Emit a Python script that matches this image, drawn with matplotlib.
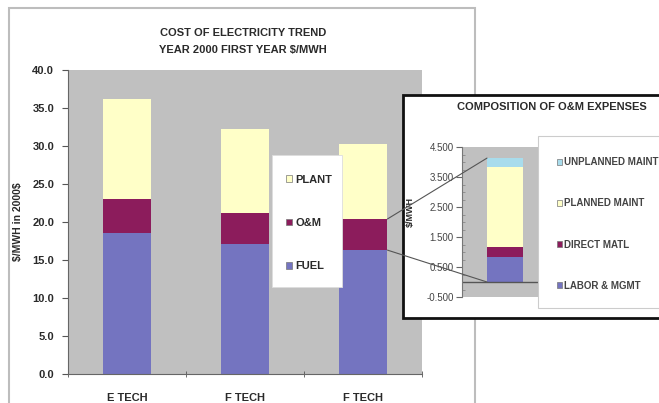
import numpy as np
import matplotlib
matplotlib.use("Agg")
import matplotlib.pyplot as plt
from matplotlib.patches import Rectangle, Patch, ConnectionPatch

plt.rcParams["font.family"] = ["Liberation Sans", "DejaVu Sans"]

# main chart data ($/MWH in 2000$)
categories = ["E TECH", "F TECH", "F TECH"]
fuel = [18.5, 17.1, 16.3]
om = [4.5, 4.1, 4.1]
plant = [13.2, 11.0, 9.8]

# inset: composition of O&M expenses
om_parts = ["LABOR & MGMT", "DIRECT MATL", "PLANNED MAINT", "UNPLANNED MAINT"]
om_values = [0.83, 0.34, 2.66, 0.30]

c_fuel, c_om, c_plant = "#7474c0", "#8c1c5c", "#ffffc8"
om_colors = ["#7474c0", "#8c1c5c", "#ffffc8", "#a8dcec"]
gray = "#c0c0c0"
W, H = 659, 403

fig = plt.figure(figsize=(6.59, 4.03), dpi=100, facecolor="white")

def fx(px): return px / W
def fy(py): return 1 - py / H

# outer chart frame
fig.add_artist(Rectangle((fx(9), fy(412)), fx(475) - fx(9), fy(8) - fy(412),
                         transform=fig.transFigure, fill=False, ec="#bdbdbd", lw=1.5, zorder=0.5))

ax = fig.add_axes([fx(68), fy(374), fx(422) - fx(68), fy(70) - fy(374)], zorder=0)
ax.set_facecolor(gray)
x = np.arange(len(categories))
bw = 0.415
ax.bar(x, fuel, bw, color=c_fuel)
ax.bar(x, om, bw, bottom=fuel, color=c_om)
base2 = np.array(fuel) + np.array(om)
ax.bar(x, plant, bw, bottom=base2, color=c_plant)
ax.set_xlim(-0.5, 2.5)
ax.set_ylim(0, 40)
ax.set_yticks(np.arange(0, 40.1, 5))
ax.set_yticklabels([f"{v:.1f}" for v in np.arange(0, 40.1, 5)], fontsize=8, fontweight="bold", color="#2a2a2a")
ax.set_xticks(x)
ax.set_xticklabels(categories, fontsize=8, fontweight="bold", color="#2a2a2a")
ax.set_xticks([-0.5, 0.5, 1.5, 2.5], minor=True)
ax.tick_params(axis="x", which="major", length=0, pad=14)
ax.tick_params(axis="x", which="minor", length=4, direction="inout", color="#555555")
ax.tick_params(axis="y", length=4, color="#555555", pad=6)
for s in ["top", "right"]:
    ax.spines[s].set_visible(False)
for s in ["left", "bottom"]:
    ax.spines[s].set_color("#666666")
ax.set_ylabel("\\$/MWH in 2000\\$", fontsize=7.5, fontweight="bold", color="#2a2a2a", labelpad=7)

fig.text(fx(243), fy(33), "COST OF ELECTRICITY TREND", ha="center", va="center",
         fontsize=8, fontweight="bold", color="#2a2a2a")
fig.text(fx(243), fy(50), "YEAR 2000 FIRST YEAR $/MWH", ha="center", va="center",
         fontsize=8, fontweight="bold", color="#2a2a2a")

# main legend
fig.add_artist(Rectangle((fx(272), fy(287)), fx(342) - fx(272), fy(155) - fy(287),
                         transform=fig.transFigure, fc="white", ec="#dddddd", lw=0.6, zorder=1))
main_handles = [Patch(fc=c, ec="#777777", lw=0.5) for c in [c_plant, c_om, c_fuel]]
fig.legend(handles=main_handles, labels=["PLANT", "O&M", "FUEL"],
           loc="center left", bbox_to_anchor=(fx(276), fy(223)), frameon=False,
           handlelength=0.55, handleheight=0.55, handletextpad=0.3, labelspacing=3.0,
           prop={"size": 8, "weight": "bold"}, labelcolor="#2a2a2a")

# inset frame
fig.add_artist(Rectangle((fx(403), fy(318)), 0.5, fy(95) - fy(318),
                         transform=fig.transFigure, fc="white", ec="#111111", lw=2, zorder=2))
fig.text(fx(552), fy(107), "COMPOSITION OF O&M EXPENSES", ha="center", va="center",
         fontsize=8, fontweight="bold", color="#2a2a2a", zorder=3)
fig.text(fx(410), fy(212), "\\$/MWH", rotation=90, ha="center", va="center",
         fontsize=6.5, fontweight="bold", color="#2a2a2a", zorder=3)

iax = fig.add_axes([fx(462), fy(297), fx(538) - fx(462), fy(147) - fy(297)], zorder=4)
iax.set_facecolor(gray)
ibw = 0.474
bottom = 0
for v, c in zip(om_values, om_colors):
    iax.bar(0, v, ibw, bottom=bottom, color=c)
    bottom += v
iax.set_xlim(-0.566, 0.434)
iax.set_ylim(-0.5, 4.5)
iax.axhline(0, color="#555555", lw=1)
yt = np.arange(-0.5, 4.51, 1)
iax.set_yticks(yt)
iax.set_yticklabels([f"{v:.3f}" for v in yt], fontsize=7, color="#444444")
iax.set_yticks(np.arange(-0.5, 4.51, 0.25), minor=True)
iax.tick_params(axis="y", which="major", length=4, color="#666666", pad=2)
iax.tick_params(axis="y", which="minor", length=2, direction="in", color="#888888")
iax.set_xticks([])
for s in ["top", "right", "bottom"]:
    iax.spines[s].set_visible(False)
iax.spines["left"].set_color("#777777")

# inset legend
fig.add_artist(Rectangle((fx(538), fy(308)), 0.4, fy(136) - fy(308),
                         transform=fig.transFigure, fc="white", ec="#cccccc", lw=0.8, zorder=5))
inset_handles = [Patch(fc=c, ec="#777777", lw=0.5) for c in om_colors[::-1]]
leg = fig.legend(handles=inset_handles, labels=om_parts[::-1],
                 loc="center left", bbox_to_anchor=(fx(548), fy(224)), frameon=False,
                 handlelength=0.5, handleheight=0.5, handletextpad=0.25, labelspacing=3.2,
                 prop={"size": 7, "weight": "bold"}, labelcolor="#444444")
leg.set_zorder(6)

# connector lines from third bar O&M segment to the inset bar
top_om = fuel[2] + om[2]
for ya, yb in [(top_om, sum(om_values)), (fuel[2], 0)]:
    con = ConnectionPatch(xyA=(2 + bw / 2, ya), coordsA=ax.transData,
                          xyB=(-ibw / 2, yb), coordsB=iax.transData,
                          color="#555555", lw=0.8, zorder=4.5)
    fig.add_artist(con)

fig.savefig("out.png", dpi=100, facecolor="white")
